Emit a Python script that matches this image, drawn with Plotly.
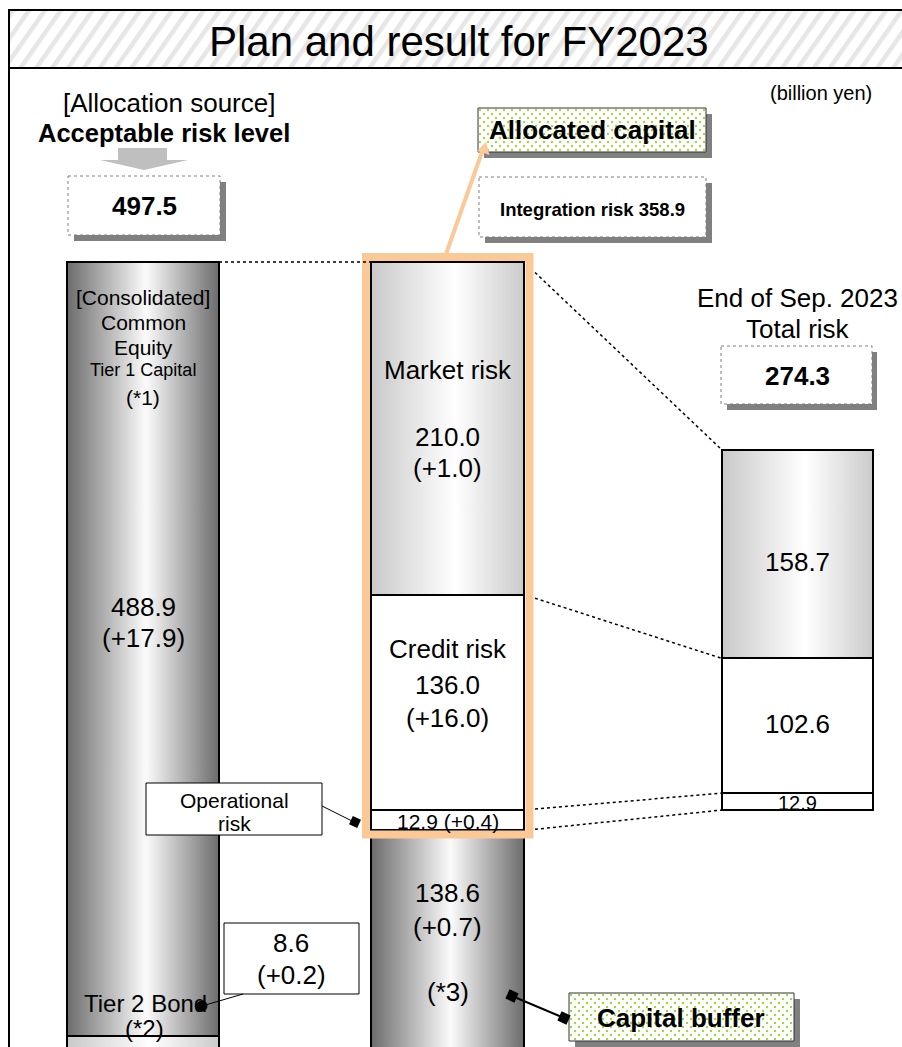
import base64
import numpy as np
import plotly.graph_objects as go

# ---------------- figures (billion yen) ----------------
acceptable_risk = 497.5
capital_items = ["Tier 2 Bond", "Common Equity Tier 1 Capital"]
capital_values = [8.6, 488.9]
capital_changes = [0.2, 17.9]

integration_risk = 358.9
plan_items = ["Capital buffer", "Operational risk", "Credit risk", "Market risk"]
plan_values = [138.6, 12.9, 136.0, 210.0]
plan_changes = [0.7, 0.4, 16.0, 1.0]

total_risk_sep = 274.3
result_items = ["Operational risk", "Credit risk", "Market risk"]
result_values = [12.9, 102.6, 158.7]

# ---------------- page geometry (pixels) ----------------
W, H = 902, 1047
FONT = "Arial, 'Liberation Sans', sans-serif"

LEFT_X0, LEFT_X1 = 67, 219
MID_X0, MID_X1 = 371, 524
RIGHT_X0, RIGHT_X1 = 722, 873
COL_TOP = 262          # pixel row of the acceptable risk level
COL_ZERO = 1050        # pixel row of zero on the capital axis
RES_TOP = 450          # pixel row of the total risk bar top

capital_fills = ["light", "dark"]
plan_fills = ["dark", "white", "white", "light"]
result_fills = ["white", "white", "light"]


def P(py):
    """pixel row (from top) -> value on the overlay pixel axis"""
    return H - py


k2 = (COL_ZERO - COL_TOP) / acceptable_risk


def py2(v):
    return COL_ZERO - v * k2


plan_bases = np.concatenate([[0.0], np.cumsum(plan_values)[:-1]])
capital_bases = np.concatenate([[0.0], np.cumsum(capital_values)[:-1]])
result_bases = np.concatenate([[0.0], np.cumsum(result_values)[:-1]])

RES_ZERO = py2(plan_bases[2])          # aligned with the operational risk floor
k3 = (RES_ZERO - RES_TOP) / total_risk_sep


def py3(v):
    return RES_ZERO - v * k3


y2_range = [(COL_ZERO - H) / k2, COL_ZERO / k2]
y3_range = [(RES_ZERO - H) / k3, RES_ZERO / k3]


def fmt(v):
    return f"{v:.1f}"


def chg(d):
    return f"(+{d:.1f})"


# ---------------- svg helpers for fills ----------------
def svg_uri(svg):
    return "data:image/svg+xml;base64," + base64.b64encode(svg.encode()).decode()


def gradient(stops):
    s = "".join(f'<stop offset="{o}" stop-color="{c}"/>' for o, c in stops)
    return svg_uri(
        '<svg xmlns="http://www.w3.org/2000/svg" width="100" height="100" '
        'viewBox="0 0 100 100" preserveAspectRatio="none"><defs>'
        f'<linearGradient id="g" x1="0" y1="0" x2="1" y2="0">{s}</linearGradient>'
        '</defs><rect x="0" y="0" width="100" height="100" fill="url(#g)"/></svg>')


def hatch(w, h):
    return svg_uri(
        f'<svg xmlns="http://www.w3.org/2000/svg" width="{w}" height="{h}" viewBox="0 0 {w} {h}">'
        '<defs><pattern id="p" width="13" height="13" patternUnits="userSpaceOnUse" '
        'patternTransform="rotate(35)"><rect x="0" y="0" width="4.5" height="13" fill="#e6e6e6"/>'
        '</pattern></defs>'
        f'<rect width="{w}" height="{h}" fill="white"/><rect width="{w}" height="{h}" fill="url(#p)"/></svg>')


def dots(w, h):
    return svg_uri(
        f'<svg xmlns="http://www.w3.org/2000/svg" width="{w}" height="{h}" viewBox="0 0 {w} {h}">'
        '<defs><pattern id="d" width="8" height="8" patternUnits="userSpaceOnUse">'
        '<circle cx="2" cy="2" r="1.2" fill="#a3d43f"/><circle cx="6" cy="6" r="1.2" fill="#a3d43f"/>'
        '</pattern></defs>'
        f'<rect width="{w}" height="{h}" fill="white"/><rect width="{w}" height="{h}" fill="url(#d)"/></svg>')


GRADS = {
    "dark": gradient([(0, "#6c6c6c"), (0.52, "#fbfbfb"), (1, "#6c6c6c")]),
    "light": gradient([(0, "#c9c9c9"), (0.55, "#ffffff"), (1, "#cbcbcb")]),
}

fig = go.Figure()
images = []
shapes = []
annotations = []


def add_column(x0, x1, values, bases, fills, yaxis, to_px):
    cx = (x0 + x1) / 2
    w = x1 - x0
    for v, b, f in zip(values, bases, fills):
        if f in GRADS:
            top_px, bot_px = to_px(b + v), to_px(b)
            images.append(dict(source=GRADS[f], xref="x", yref="y", x=x0, y=P(top_px),
                               sizex=w, sizey=bot_px - top_px, sizing="stretch", layer="below",
                               xanchor="left", yanchor="top"))
        fig.add_trace(go.Bar(x=[cx], y=[v], base=[b], width=[w], xaxis="x", yaxis=yaxis,
                             marker=dict(color="rgba(0,0,0,0)", line=dict(color="black", width=2)),
                             hoverinfo="skip", showlegend=False))


add_column(LEFT_X0, LEFT_X1, capital_values, capital_bases, capital_fills, "y2", py2)
add_column(MID_X0, MID_X1, plan_values, plan_bases, plan_fills, "y2", py2)
add_column(RIGHT_X0, RIGHT_X1, result_values, result_bases, result_fills, "y3", py3)


def rect(x0, y0, x1, y1, fill=None, line=None, lw=1, dash=None, layer="above"):
    shapes.append(dict(type="rect", xref="x", yref="y", x0=x0, x1=x1, y0=P(y0), y1=P(y1),
                       fillcolor=fill or "rgba(0,0,0,0)", layer=layer,
                       line=dict(color=line or "rgba(0,0,0,0)", width=lw if line else 0,
                                 dash=dash or "solid")))


def seg(x0, y0, x1, y1, color="black", lw=1, dash="solid"):
    shapes.append(dict(type="line", xref="x", yref="y", x0=x0, x1=x1, y0=P(y0), y1=P(y1),
                       line=dict(color=color, width=lw, dash=dash), layer="above"))


def poly(points, fill, line_w=0):
    path = "M " + " L ".join(f"{x},{P(y)}" for x, y in points) + " Z"
    shapes.append(dict(type="path", xref="x", yref="y", path=path, fillcolor=fill,
                       line=dict(color=fill, width=line_w), layer="above"))


def rot_square(cx, cy, s, ang):
    a = np.deg2rad(ang)
    pts = []
    for dx, dy in [(-1, -1), (1, -1), (1, 1), (-1, 1)]:
        x = dx * s / 2
        y = dy * s / 2
        pts.append((cx + x * np.cos(a) - y * np.sin(a), cy + x * np.sin(a) + y * np.cos(a)))
    poly(pts, "black")


def text(x, y, s, size, bold=False):
    annotations.append(dict(x=x, y=P(y), xref="x", yref="y",
                            text=f"<b>{s}</b>" if bold else s, showarrow=False,
                            font=dict(family=FONT, size=size, color="black"),
                            xanchor="center", yanchor="middle"))


def clipped_link(xa, ya, xb, yb, xstart):
    t = (xstart - xa) / (xb - xa)
    seg(xstart, ya + t * (yb - ya), xb, yb, lw=1.5, dash="dot")


# ---------------- frame and title band ----------------
images.append(dict(source=hatch(W - 10, 57), xref="x", yref="y", x=10, y=P(11),
                   sizex=W - 10, sizey=57, sizing="stretch", layer="below",
                   xanchor="left", yanchor="top"))
rect(9, 10, W + 5, H + 5, line="black", lw=2)
seg(9, 68, W + 5, 68, lw=2)
text(459, 41, "Plan and result for FY2023", 42)
text(821, 93, "(billion yen)", 20)

# ---------------- allocation source ----------------
text(169, 103, "[Allocation source]", 26)
text(164, 133, "Acceptable risk level", 25.5, bold=True)
poly([(118, 148), (167, 148), (167, 160), (188, 160), (144, 170), (100, 160), (118, 160)], "#bfbfbf")
rect(74, 182, 226, 241, fill="#808080")
rect(68, 176, 220, 235, fill="white", line="#7f7f7f", dash="dot")
text(144, 206, fmt(acceptable_risk), 26, bold=True)

# ---------------- allocated capital ----------------
shapes.append(dict(type="rect", xref="x", yref="y", x0=484, x1=712, y0=P(114), y1=P(158),
                   fillcolor="#808080", line=dict(width=0), layer="below"))
images.append(dict(source=dots(228, 44), xref="x", yref="y", x=478, y=P(108),
                   sizex=228, sizey=44, sizing="stretch", layer="above",
                   xanchor="left", yanchor="top"))
rect(478, 108, 706, 152, line="#333333", lw=1)
text(592, 130, "Allocated capital", 26, bold=True)

rect(485, 183, 712, 243, fill="#808080")
rect(479, 177, 706, 237, fill="white", line="#7f7f7f", dash="dot")
text(592, 209, f"Integration risk {fmt(integration_risk)}", 18.5, bold=True)

# orange frame around the allocated risks
alloc_top = py2(plan_bases[-1] + plan_values[-1])
alloc_bottom = py2(plan_bases[1])
rect(366, alloc_top - 5, 529.5, alloc_bottom + 4, line="#fbc898", lw=8)
seg(446, alloc_top - 8, 482, 152, color="#fbc898", lw=4)
poly([(486, 142), (489.5, 155), (477, 151)], "#fbc898")

# ---------------- dotted guides ----------------
seg(LEFT_X1, py2(acceptable_risk), MID_X0, py2(acceptable_risk), lw=1.5, dash="dot")
clipped_link(MID_X1, alloc_top, RIGHT_X0, py3(total_risk_sep), 535)
clipped_link(MID_X1, py2(plan_bases[3]), RIGHT_X0, py3(result_bases[2]), 535)
clipped_link(MID_X1, py2(plan_bases[2]), RIGHT_X0, py3(result_bases[1]), 535)
clipped_link(MID_X1, py2(plan_bases[1]), RIGHT_X0, py3(result_bases[0]), 535)

# ---------------- left column labels ----------------
LCX = (LEFT_X0 + LEFT_X1) / 2
text(LCX, 297, "[Consolidated]", 21)
text(LCX, 322, "Common", 21)
text(LCX, 347, "Equity", 21)
text(LCX, 370, "Tier 1 Capital", 18)
text(LCX, 397, "(*1)", 21)
text(LCX, 607, fmt(capital_values[1]), 26)
text(LCX, 638, chg(capital_changes[1]), 26)
text(145, 1003, "Tier 2 Bond", 24)
text(144, 1028, "(*2)", 24)

rect(224, 923, 359, 994, fill="white", line="black", lw=1)
text(291, 943, fmt(capital_values[0]), 26)
text(291, 975, chg(capital_changes[0]), 26)
seg(243, 994, 202, 1006, lw=1)
shapes.append(dict(type="circle", xref="x", yref="y", x0=196.5, x1=207.5, y0=P(1000.5), y1=P(1011.5),
                   fillcolor="black", line=dict(color="black", width=0), layer="above"))

# ---------------- middle column labels ----------------
MCX = (MID_X0 + MID_X1) / 2
text(MCX, 370, "Market risk", 26)
text(MCX, 437, fmt(plan_values[3]), 26)
text(MCX, 468, chg(plan_changes[3]), 26)
text(MCX, 649, "Credit risk", 26)
text(MCX, 685, fmt(plan_values[2]), 26)
text(MCX, 718, chg(plan_changes[2]), 26)
text(MCX, py2(plan_bases[1] + plan_values[1] / 2) + 1, f"{fmt(plan_values[1])} {chg(plan_changes[1])}", 21)
text(MCX, 893, fmt(plan_values[0]), 26)
text(MCX, 927, chg(plan_changes[0]), 26)
text(MCX, 992, "(*3)", 26)

rect(146, 783, 322, 835, fill="white", line="black", lw=1)
text(234, 800, "Operational", 21)
text(234, 823, "risk", 21)
seg(322, 806, 354, 822, lw=1)
rot_square(355, 822, 9, 25)

# capital buffer callout
shapes.append(dict(type="rect", xref="x", yref="y", x0=575, x1=800, y0=P(999), y1=P(1047),
                   fillcolor="#808080", line=dict(width=0), layer="below"))
images.append(dict(source=dots(225, 48), xref="x", yref="y", x=569, y=P(993),
                   sizex=225, sizey=48, sizing="stretch", layer="above",
                   xanchor="left", yanchor="top"))
rect(569, 993, 794, 1041, line="#333333", lw=1)
text(681, 1018, "Capital buffer", 26, bold=True)
seg(512, 996, 564, 1018, lw=2)
rot_square(512, 996, 10, 25)
rot_square(564, 1018, 10, 25)

# ---------------- right column ----------------
RCX = (RIGHT_X0 + RIGHT_X1) / 2
text(RCX, 298, "End of Sep. 2023", 26)
text(RCX, 329, "Total risk", 26)
rect(727, 352, 877, 410, fill="#808080")
rect(721, 346, 872, 404, fill="white", line="#7f7f7f", dash="dot")
text(RCX, 376, fmt(total_risk_sep), 26, bold=True)
text(RCX, 562, fmt(result_values[2]), 26)
text(RCX, 724, fmt(result_values[1]), 26)
text(RCX, py3(result_bases[0] + result_values[0] / 2) + 1, fmt(result_values[0]), 20)

fig.update_layout(
    width=W, height=H, autosize=False,
    margin=dict(l=0, r=0, t=0, b=0, pad=0),
    paper_bgcolor="white", plot_bgcolor="white",
    barmode="overlay", bargap=0,
    showlegend=False,
    xaxis=dict(range=[0, W], visible=False, fixedrange=True),
    yaxis=dict(range=[0, H], visible=False, fixedrange=True),
    yaxis2=dict(range=y2_range, overlaying="y", visible=False, fixedrange=True),
    yaxis3=dict(range=y3_range, overlaying="y", visible=False, fixedrange=True),
    images=images, shapes=shapes, annotations=annotations,
)

fig.write_html("out.html")
